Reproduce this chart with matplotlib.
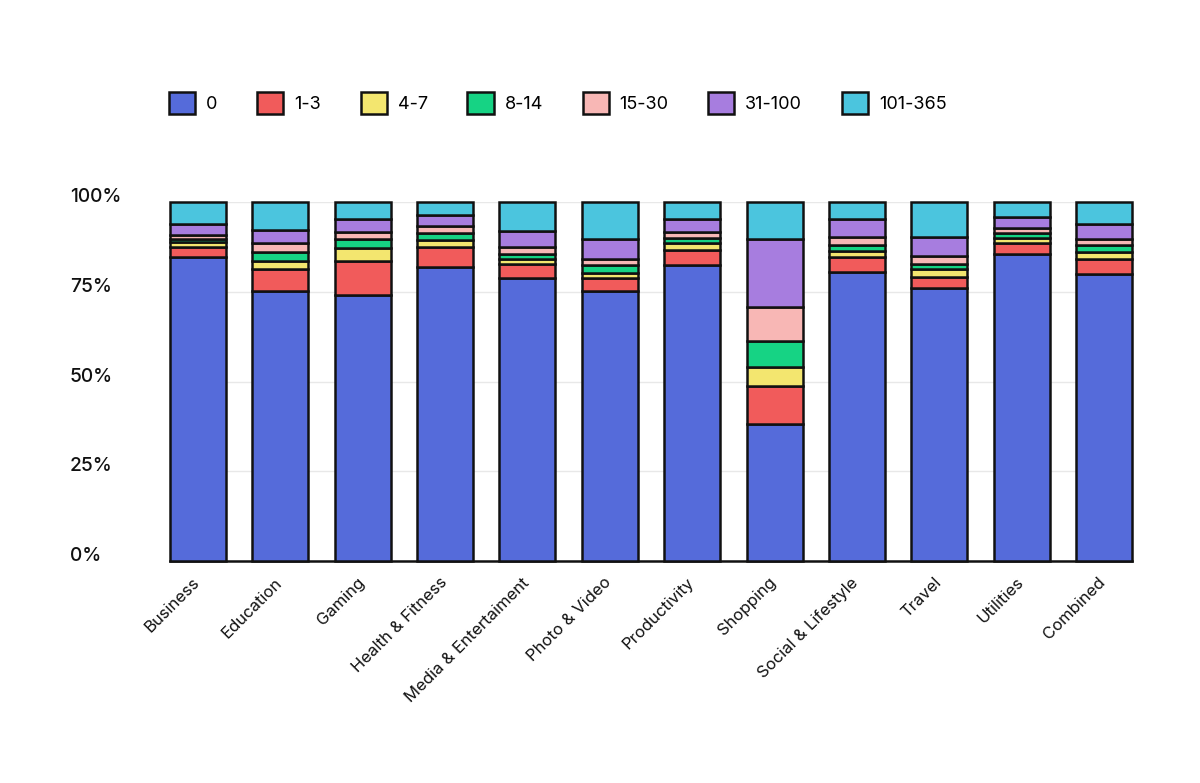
import matplotlib
matplotlib.use("Agg")
import matplotlib.pyplot as plt
import matplotlib.transforms as mtransforms
import numpy as np
from matplotlib.patches import Patch

plt.rcParams['font.family'] = ['Inter', 'DejaVu Sans']

categories = ["Business", "Education", "Gaming", "Health & Fitness", "Media & Entertaiment",
              "Photo & Video", "Productivity", "Shopping", "Social & Lifestyle", "Travel",
              "Utilities", "Combined"]
series_labels = ["0", "1-3", "4-7", "8-14", "15-30", "31-100", "101-365"]
s_0       = [84.7, 75.2, 74.1, 81.9, 78.8, 75.2, 82.5, 38.2, 80.5, 76.0, 85.5, 79.9]
s_1_3     = [2.8, 6.1, 9.5, 5.6, 3.9, 3.6, 4.1, 10.5, 4.2, 3.1, 3.1, 4.2]
s_4_7     = [1.4, 2.3, 3.6, 1.9, 1.4, 1.4, 2.0, 5.3, 1.7, 2.2, 1.4, 2.0]
s_8_14    = [0.8, 2.5, 2.5, 2.0, 1.4, 2.3, 1.4, 7.3, 1.6, 1.4, 1.4, 1.9]
s_15_30   = [1.1, 2.5, 1.9, 1.9, 2.0, 1.6, 1.6, 9.5, 2.3, 2.3, 1.4, 1.7]
s_31_100  = [3.1, 3.6, 3.7, 3.1, 4.4, 5.6, 3.7, 18.9, 5.0, 5.3, 3.0, 4.2]
s_101_365 = [6.1, 7.8, 4.7, 3.6, 8.1, 10.3, 4.7, 10.3, 4.7, 9.7, 4.2, 6.1]
yticks = [0, 25, 50, 75, 100]
ytick_labels = ["0%", "25%", "50%", "75%", "100%"]

colors = ["#556BDA", "#F15B5B", "#F3E66F", "#16D384", "#F8B7B5", "#A77DDF", "#4BC5DE"]
series = [s_0, s_1_3, s_4_7, s_8_14, s_15_30, s_31_100, s_101_365]

fig = plt.figure(figsize=(12, 7.83), dpi=100)
ax = fig.add_axes([170/1200, 1-561/783, 962/1200, 359/783])

x = np.arange(len(categories))
w = 0.68
bottom = np.zeros(len(categories))
for vals, c, lab in zip(series, colors, series_labels):
    ax.bar(x, vals, w, bottom=bottom, color=c, edgecolor="#111111", linewidth=1.8,
           label=lab, zorder=3, clip_on=False)
    bottom += np.array(vals)

ax.set_xlim(-w/2, len(categories) - 1 + w/2)
ax.set_ylim(0, 100)
ax.set_yticks(yticks)
ax.set_yticklabels(ytick_labels, fontsize=13.8, ha='left', va='baseline',
                   color="#111111", fontweight='medium')
ax.tick_params(axis='y', length=0, pad=72)
ax.set_xticks(x)
ax.set_xticklabels(categories, rotation=45, ha='right', rotation_mode='anchor',
                   fontsize=12, color="#111111")
ax.tick_params(axis='x', length=0, pad=10)
offset = mtransforms.ScaledTranslation(-6/100, 0, fig.dpi_scale_trans)
for lbl in ax.get_xticklabels():
    lbl.set_transform(lbl.get_transform() + offset)
ax.grid(axis='y', color="#E8E8E8", linewidth=1, zorder=0)
for s in ["top", "right", "left"]:
    ax.spines[s].set_visible(False)
ax.spines["bottom"].set_color("#111111")
ax.spines["bottom"].set_linewidth(1.8)

handles = [Patch(facecolor=c, edgecolor="#111111", linewidth=1.8) for c in colors]
fig.legend(handles, series_labels, loc='center left', bbox_to_anchor=(169/1200, 1-103/783),
           ncol=7, frameon=False, fontsize=13, handlelength=1.45, handleheight=1.45,
           handletextpad=0.6, columnspacing=2.2, borderpad=0, borderaxespad=0)

fig.savefig("out.png", dpi=100, facecolor="white")
